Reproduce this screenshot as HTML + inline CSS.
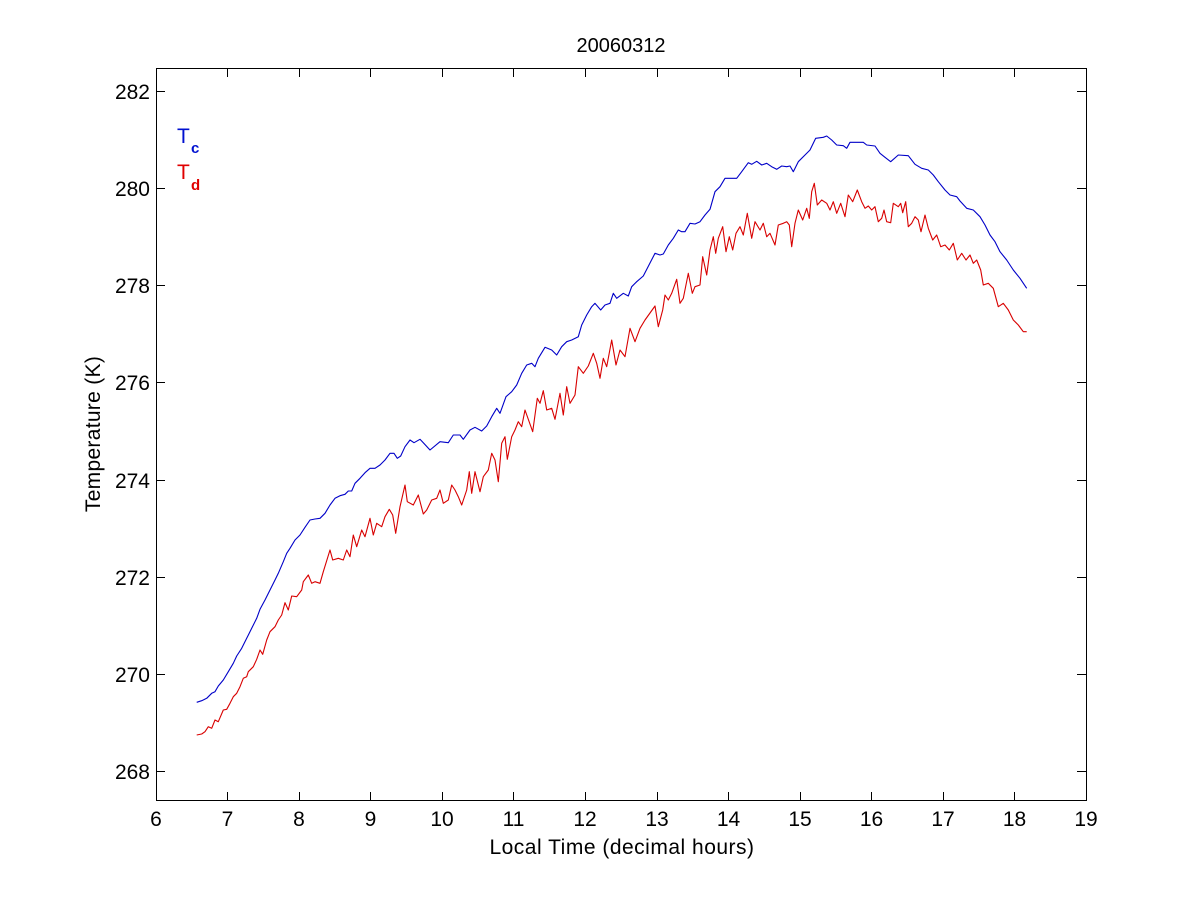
<!DOCTYPE html>
<html>
<head>
<meta charset="utf-8">
<style>
html,body{margin:0;padding:0;background:#fff;}
svg{display:block;}
text{font-family:"Liberation Sans",Arial,sans-serif;fill:#000;}
</style>
</head>
<body>
<svg width="1200" height="900" viewBox="0 0 1200 900" xmlns="http://www.w3.org/2000/svg">
<rect x="0" y="0" width="1200" height="900" fill="#fff"/>
<!-- axes box -->
<rect x="156.5" y="68.5" width="930" height="732" fill="none" stroke="#000" stroke-width="1"/>
<!-- ticks -->
<g stroke="#000" stroke-width="1">
<!-- x ticks bottom and top -->
<path d="M227.5 801V792M299.5 801V792M370.5 801V792M442.5 801V792M513.5 801V792M585.5 801V792M657.5 801V792M728.5 801V792M800.5 801V792M871.5 801V792M943.5 801V792M1014.5 801V792"/>
<path d="M227.5 68V77M299.5 68V77M370.5 68V77M442.5 68V77M513.5 68V77M585.5 68V77M657.5 68V77M728.5 68V77M800.5 68V77M871.5 68V77M943.5 68V77M1014.5 68V77"/>
<!-- y ticks left and right -->
<path d="M156 771.5H165M156 674.5H165M156 577.5H165M156 480.5H165M156 382.5H165M156 285.5H165M156 188.5H165M156 91.5H165"/>
<path d="M1086 771.5H1077M1086 674.5H1077M1086 577.5H1077M1086 480.5H1077M1086 382.5H1077M1086 285.5H1077M1086 188.5H1077M1086 91.5H1077"/>
</g>
<!-- y tick labels -->
<g font-size="21" text-anchor="end">
<text x="150" y="779">268</text>
<text x="150" y="682">270</text>
<text x="150" y="585">272</text>
<text x="150" y="488">274</text>
<text x="150" y="390">276</text>
<text x="150" y="293">278</text>
<text x="150" y="196">280</text>
<text x="150" y="99">282</text>
</g>
<!-- x tick labels -->
<g font-size="21" text-anchor="middle">
<text x="156" y="826">6</text>
<text x="227.5" y="826">7</text>
<text x="299" y="826">8</text>
<text x="370.5" y="826">9</text>
<text x="442" y="826">10</text>
<text x="513.5" y="826">11</text>
<text x="585" y="826">12</text>
<text x="657" y="826">13</text>
<text x="728.5" y="826">14</text>
<text x="800" y="826">15</text>
<text x="871.5" y="826">16</text>
<text x="943" y="826">17</text>
<text x="1014.5" y="826">18</text>
<text x="1086" y="826">19</text>
</g>
<!-- title and labels -->
<text x="621" y="52" font-size="20" text-anchor="middle">20060312</text>
<text x="622" y="854" font-size="21" letter-spacing="0.5" text-anchor="middle">Local Time (decimal hours)</text>
<text transform="translate(100,434) rotate(-90)" font-size="21" letter-spacing="0.3" text-anchor="middle">Temperature (K)</text>
<!-- legend text -->
<text x="177" y="143" font-size="21" style="fill:#0010d0">T</text>
<text x="191" y="153" font-size="15" font-weight="bold" style="fill:#0010d0">c</text>
<text x="177" y="179" font-size="21" style="fill:#e00000">T</text>
<text x="191" y="190" font-size="15" font-weight="bold" style="fill:#e00000">d</text>
<!-- blue series -->
<polyline fill="none" stroke="#0000c8" stroke-width="1.1" stroke-linejoin="round" points="196.7,702.3 201.7,700.7 206.7,698.3 211.7,693.3 215,691.7 218.3,686 223.3,680 228.3,671.7 233.3,663.3 236.7,656 241.7,648.3 246.7,638.3 251.7,628.3 256.7,618.3 260,609.3 265,600 270,590 275,580 278.3,573.3 283.3,561.7 286.7,553.3 290,548.3 295,540 300,535 305,527.3 310,520 315,519 320,518.3 325,513.3 330,505 335,498.3 340,495.7 345,494.3 348.3,491 351.7,491 355,483.3 360,478.3 365,472.7 370,468.3 375,468.3 380,465 385,460 390,453.3 394,453.3 397.3,458.3 400.7,456 405,446.7 410,440 414,442.7 420,439.3 423.3,442.7 430,450 440,441.7 448.3,442.7 453.3,435 460,435 463.3,439.3 470,430 475,427.3 481.7,431 486.7,426 491.7,416.7 496.7,408.3 500,413.3 506,396.7 511.7,391.7 516.7,385 521.7,373.3 526.7,365 531.7,363.3 535,366.7 538.3,358.3 545,347.3 551.7,350 556.7,355 561.7,346.7 566.7,341.7 571.7,340 578.3,336.7 581.7,325 586.7,315 591.7,306.7 595,303.3 600.7,310 605,305 610,303.3 613.3,293.3 616.7,298.3 623.3,293.3 628.3,296 631.7,286.7 636.7,281.7 643.3,276 650,263 655,253.3 660,255 663.3,254 668.3,245 673.3,238.3 678.3,230 681.7,231.7 685,231.7 690,223.3 695,224 700,221.7 705,215 710,209.3 715,191.7 720,186.7 725,178.3 731.7,178.3 736.7,178.3 741.7,171.7 748.3,162.7 751.7,164.3 756.7,161.3 761.7,165 766.7,163.3 771.7,166.7 776.7,169.3 781.7,166 786.7,166.7 790,166 793.3,171.7 798.3,161.7 805,155 810,150 815.7,138.3 823.3,137.3 826.7,136 831.7,140 836.7,145 843.3,145.7 846.7,148.3 850,142.3 858.3,142.3 863.3,142.3 866.7,145 875,146 880,153.3 885,157.3 890.7,161.7 898.3,155 908.3,155.7 915,164.3 921.7,168.3 928.3,170 933.3,175 938.3,181.7 945,190 950,195 956.7,196.7 960,201 966.7,208.3 973.3,210 980,216.7 985,225 990,235 995,241.7 1000,251.7 1006.7,260 1013.3,270 1020,278.3 1026.7,288.3"/>
<!-- red series -->
<polyline fill="none" stroke="#d80000" stroke-width="1.1" stroke-linejoin="round" points="196.7,735 201.7,734 205,731.7 208.3,726.7 211.7,728.3 215,720 218.3,721.7 223.3,710 226.7,709.3 230,703.3 233.3,696.7 236.7,693.3 240,686.7 243.3,678.3 246.7,676.7 248.3,671.7 253.3,666.7 256.7,659.3 260,650 262.7,654.3 266.7,640 270,631.7 275,626.7 278.3,620 281.7,615 285,602.7 288.3,610 291.7,596 296.7,596.7 301.7,590 303.3,581.7 308.3,575 311.7,583.3 315,581.7 320,583.3 323.3,571.7 330,550 332.7,560 338.3,558.3 343.3,560 346.7,550 350,556.7 353.3,535 356.7,546.7 361.7,530 365,536.7 370,518.3 373.3,535 376.7,523.3 381.7,526.7 385,516.7 389.3,509.3 392.7,515 395.7,533.3 400,506.7 405,485 407.3,501.7 413.3,505 418.3,495 423.3,514 426.7,510 431.7,500 436.7,498.3 440,490 443.3,503.3 448.3,500 451.7,485 455,490 458.3,496.7 461.7,505 466.7,490 469.3,471.7 471.7,493.3 475,471.7 480,491.7 483.3,476.7 488.3,470 491.7,453.3 495,460 498.3,481.7 501.7,443.3 505,436.7 507.3,459.3 511.7,436.7 515,430 518.3,421.7 521.7,426.7 525,410 532.7,431.7 537.3,398.3 540,403.3 543.3,390.7 546.7,410 551.7,408.3 555,419.3 560,393.3 563.3,415 566.7,386.7 570,403.3 575,395 578.3,366.7 583.3,373.3 588.3,366 593.3,353.3 596.7,363.3 600,378.3 603.3,358.3 606.7,366.7 611.7,340 616,365 620,350 625,356.7 630,328.3 635,341.7 640,328.3 645,320 650,313 655,306 658.3,326.7 662.7,310 665,295 668.3,300 671.7,293.3 676.7,279.3 680,303.3 683.3,298.3 688.3,273.3 692.3,293.3 695,286.7 700,285 702.7,256.7 706.7,275 710,250 713.3,236.7 715.7,253.3 718.3,238.3 722.7,226.7 726,251.7 729.3,236.7 732.7,250 736,233.3 740,226.7 743.3,235 747.3,213.3 751.7,238.3 755,221.7 760,230 763.3,223.3 766.7,236.7 770,233.3 775,245 778.3,225 783.3,223.3 786.7,221.7 789.3,225 791.7,246.7 795,223.3 798.3,210 802.7,220 806.7,208.3 809.3,218.3 811.7,191.7 814.3,183.3 817.3,205 821.7,200 826.7,203.3 830,210 833.3,201.7 836.7,213.3 840.7,203.3 845,216.7 848.3,195 852.7,201.7 857.3,190 861.7,201.7 865,208.3 868.3,206 871.7,210 875,206.7 878.3,221.7 881.7,218.3 884,210 886.7,221.7 890.7,222.7 893.3,203.3 898.3,206.7 900.7,203.3 902.7,212.7 905.7,201.7 908.3,226.7 911.7,223.3 915,216.7 918.3,220 921,231.7 925,215 928.3,228.3 932.7,240 936.7,235 940.7,246.7 945,245 949.3,250 953.3,243.3 957.3,260 961.7,253.3 966,260 970,255 973.3,263.3 976.7,260 980.7,270 983.3,285 988.3,283.3 993.3,288.3 998.3,306.7 1003.3,303.3 1008.3,310 1013.3,320 1018.3,325 1023.3,331.7 1026.7,331.7"/>
</svg>
</body>
</html>
